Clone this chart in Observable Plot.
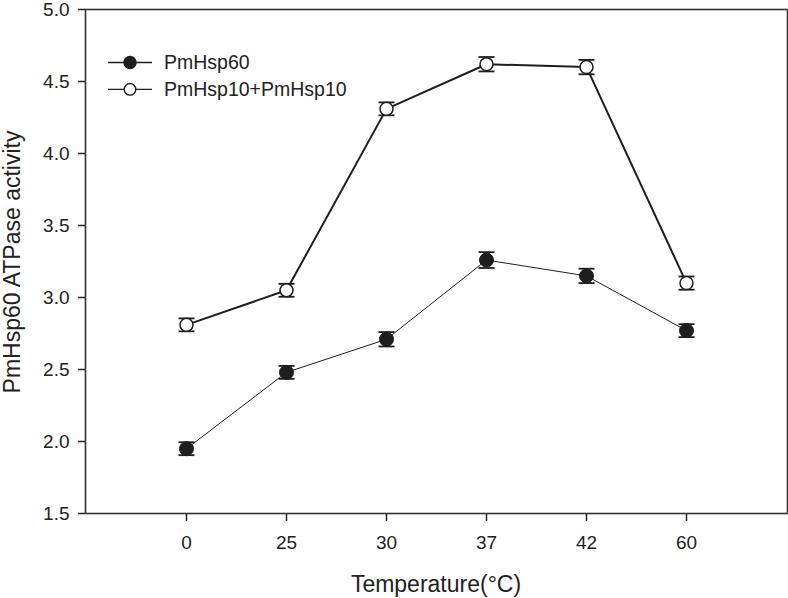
<!DOCTYPE html>
<html><head><meta charset="utf-8">
<script src="https://cdn.jsdelivr.net/npm/d3@7"></script>
<script src="https://cdn.jsdelivr.net/npm/@observablehq/plot@0.6"></script>
<style>
body{margin:0;background:#fff;}
#wrap{position:relative;width:788px;height:598px;}
</style></head><body><div id="wrap"></div>
<script>
const temps = ["0","25","30","37","42","60"];
const hsp60 = [1.95, 2.48, 2.71, 3.26, 3.15, 2.77];
const hsp60Err = [0.045, 0.045, 0.05, 0.055, 0.05, 0.045];
const hsp10 = [2.81, 3.05, 4.31, 4.62, 4.60, 3.10];
const hsp10Err = [0.045, 0.045, 0.045, 0.05, 0.05, 0.046];
const seriesNames = ["PmHsp60", "PmHsp10+PmHsp10"];
const yTicks = [1.5, 2.0, 2.5, 3.0, 3.5, 4.0, 4.5, 5.0];
const xTitle = "Temperature(\u00B0C)";
const yTitle = "PmHsp60 ATPase activity";

const FONT = "'Liberation Sans', Arial, Helvetica, sans-serif";
const INK = "#1e1e1e";

const d60 = temps.map((t, i) => ({t, v: hsp60[i], e: hsp60Err[i]}));
const d10 = temps.map((t, i) => ({t, v: hsp10[i], e: hsp10Err[i]}));

// horizontal cap symbol for error bars
const capSymbol = {
  draw(context) {
    context.moveTo(-8, 0);
    context.lineTo(8, 0);
  }
};

function errMarks(data) {
  return [
    Plot.ruleX(data, {x: "t", y1: d => d.v - d.e, y2: d => d.v + d.e, stroke: INK, strokeWidth: 1.5}),
    Plot.dot(data, {x: "t", y: d => d.v - d.e, symbol: capSymbol, fill: "none", stroke: INK, strokeWidth: 1.8}),
    Plot.dot(data, {x: "t", y: d => d.v + d.e, symbol: capSymbol, fill: "none", stroke: INK, strokeWidth: 1.8})
  ];
}

const chart = Plot.plot({
  width: 788,
  height: 598,
  marginLeft: 85,
  marginRight: 1,
  marginTop: 9,
  marginBottom: 85,
  style: {fontFamily: FONT, fontSize: "19px", color: "#222", background: "#fff", overflow: "visible"},
  x: {type: "point", domain: temps, padding: 1, label: null},
  y: {domain: [1.5, 5], label: null},
  marks: [
    Plot.axisY({ticks: yTicks, tickFormat: d3.format(".1f"), tickSize: 7, tickPadding: 9, label: null, strokeWidth: 1.5, fontSize: 19}),
    Plot.axisX({tickSize: 8, tickPadding: 14, label: null, strokeWidth: 1.5, fontSize: 19}),
    Plot.line(d60, {x: "t", y: "v", stroke: INK, strokeWidth: 1}),
    Plot.line(d10, {x: "t", y: "v", stroke: INK, strokeWidth: 2}),
    ...errMarks(d60),
    ...errMarks(d10),
    Plot.dot(d60, {x: "t", y: "v", r: 7, fill: INK, stroke: INK, strokeWidth: 1}),
    Plot.dot(d10, {x: "t", y: "v", r: 6.5, fill: "#fff", stroke: INK, strokeWidth: 1.5}),
    Plot.frame({stroke: "#333", strokeWidth: 1.6})
  ]
});

document.getElementById("wrap").appendChild(chart);

const svg = d3.select(chart);
// axis titles
svg.append("text")
  .attr("x", 436).attr("y", 592)
  .attr("text-anchor", "middle")
  .attr("font-family", FONT).attr("font-size", 23).attr("fill", "#222")
  .text(xTitle);
svg.append("text")
  .attr("transform", "translate(20,262) rotate(-90)")
  .attr("text-anchor", "middle")
  .attr("font-family", FONT).attr("font-size", 23).attr("fill", "#222")
  .text(yTitle);

// legend
const leg = svg.append("g").attr("font-family", FONT).attr("font-size", 19.5).attr("fill", "#222")
  .attr("text-anchor", "start");
const rows = [{name: seriesNames[0], filled: true, y: 62.5}, {name: seriesNames[1], filled: false, y: 89.3}];
rows.forEach(r => {
  leg.append("line").attr("x1", 108).attr("x2", 152).attr("y1", r.y).attr("y2", r.y)
    .attr("stroke", INK).attr("stroke-width", 1.3);
  leg.append("circle").attr("cx", 130).attr("cy", r.y).attr("r", r.filled ? 6 : 5.8)
    .attr("fill", r.filled ? INK : "#fff").attr("stroke", INK).attr("stroke-width", 1.4);
  leg.append("text").attr("x", 164).attr("y", r.y).attr("dy", "0.35em")
    .attr("text-anchor", "start").text(r.name);
});
</script>
</body></html>
